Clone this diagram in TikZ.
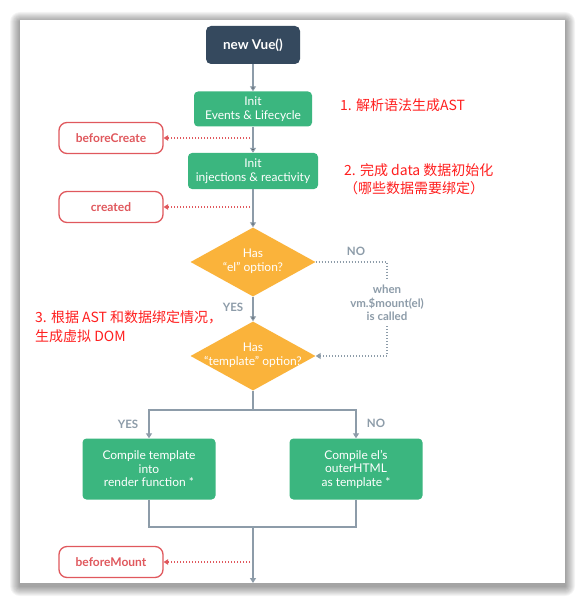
\documentclass[tikz,border=0pt]{standalone}
\usepackage{fontspec}
\setmainfont{Lato}
\newfontfamily\cjk{Noto Sans CJK SC}
\usetikzlibrary{shapes.geometric,arrows.meta}
\definecolor{vuenavy}{HTML}{35495E}
\definecolor{vuegreen}{HTML}{3BB67F}
\definecolor{vueyellow}{HTML}{FAB33B}
\definecolor{hookred}{HTML}{E0585D}
\definecolor{flowgray}{HTML}{8D9CA9}
\definecolor{notered}{HTML}{FF1F1F}
\newcommand{\dtext}[2]{\makebox[0pt]{\raisebox{4pt}{\begin{tabular}{@{}c@{}}#1\\#2\end{tabular}}}}
\tikzstyle{startbox}=[
	fill=vuenavy,
	rounded corners=5pt,
	text=white,
	font=\bfseries\fontsize{13.5}{15}\selectfont,
	minimum width=94pt,
	minimum height=38pt,
	inner sep=0pt
]
\tikzstyle{initbox}=[
	fill=vuegreen,
	rounded corners=4pt,
	text=white,
	font=\fontsize{12}{13.5}\selectfont,
	align=center,
	inner sep=0pt
]
\tikzstyle{hookbox}=[
	draw=hookred,
	line width=1.3pt,
	fill=white,
	rounded corners=8pt,
	text=hookred,
	font=\bfseries\fontsize{12}{14}\selectfont,
	minimum width=104pt,
	minimum height=31pt,
	inner sep=0pt
]
\tikzstyle{decision}=[
	diamond,
	fill=vueyellow,
	text=white,
	font=\fontsize{12}{14}\selectfont,
	minimum width=125pt,
	minimum height=69pt,
	inner sep=0pt
]
\tikzstyle{flowlabel}=[text=flowgray, font=\bfseries\fontsize{11.5}{13.5}\selectfont, align=center]
\tikzstyle{note}=[text=notered, font=\cjk\fontsize{14}{18.5}\selectfont, align=left, anchor=west, inner sep=0pt]
\tikzstyle{flow}=[draw=flowgray, line width=1.6pt]
\tikzstyle{flowarrow}=[flow, -{Triangle[width=6pt,length=5pt]}]
\tikzstyle{noflow}=[draw=flowgray, line width=1.3pt, dash pattern=on 1.4pt off 1.6pt]
\tikzstyle{noflowarrow}=[noflow, -{Triangle[width=6pt,length=5pt]}]
\tikzstyle{hookarrow}=[draw=hookred, line width=1.2pt, dash pattern=on 1.4pt off 1.6pt, -{Triangle[width=5.5pt,length=4.5pt]}]

\begin{document}
\begin{tikzpicture}[x=1pt,y=-1pt]
	\useasboundingbox (0,0) rectangle (583,604);
	
	\foreach \i in {1,...,10}
		\fill[black, opacity=0.045, rounded corners=\i pt] (20-\i,20-\i+2) rectangle (565+\i,583+\i+3);
	\fill[white] (20,20) rectangle (565,583);
	
	\node[startbox]	(vue)	at (253,45)	{new Vue()};
	\node[initbox, minimum width=118pt, minimum height=35pt]	(initev)	at (253,109)	{Init\\Events \& Lifecycle};
	\node[initbox, minimum width=130pt, minimum height=36pt]	(initinj)	at (253,171)	{Init\\injections \& reactivity};
	\node[decision]	(hasel)	at (253,262)	{\dtext{Has}{“el” option?}};
	\node[decision]	(hastpl)	at (253,356)	{\dtext{Has}{“template” option?}};
	\node[initbox, minimum width=133pt, minimum height=61pt]	(cmptpl)	at (149,469)	{Compile template\\into\\render function *};
	\node[initbox, minimum width=133pt, minimum height=61pt]	(cmpel)	at (356,469)	{Compile el’s\\outerHTML\\as template *};
	
	\node[hookbox]	(bc)	at (111,138)	{beforeCreate};
	\node[hookbox]	(cr)	at (111,207)	{created};
	\node[hookbox]	(bm)	at (111,562)	{beforeMount};
	
	\node[flowlabel]	(nolbl)	at (356,251)	{NO};
	\node[flowlabel]	(yeslbl)	at (233,307)	{YES};
	\node[flowlabel, inner sep=5pt]	(mount)	at (387,303)	{when\\vm.\$mount(el)\\is called};
	\node[flowlabel]	(yestpl)	at (128,424)	{YES};
	\node[flowlabel]	(notpl)	at (376,423)	{NO};
	
	\node[note]	(note1)	at (340,105)	{1. 解析语法生成AST};
	\node[note]	(note2)	at (344,179)	{2. 完成 data 数据初始化\\（哪些数据需要绑定）};
	\node[note]	(note3)	at (35,326.5)	{3. 根据 AST 和数据绑定情况，\\生成虚拟 DOM};
	
	\coordinate	(split)	at (253,410);
	\coordinate	(join)	at (253,527);
	\coordinate	(last)	at (253,583);
	
	\draw[hookarrow] (initev |- bc) -- (bc);
	\draw[hookarrow] (initinj |- cr) -- (cr);
	\draw[hookarrow] (join |- bm) -- (bm);
	
	\path[flowarrow]
		(vue) edge (initev)
		(initev) edge (initinj)
		(initinj) edge (hasel)
		(hasel) edge (hastpl);
	\draw[flow] (hastpl) -- (split);
	\draw[flowarrow] (split) -| (cmptpl);
	\draw[flowarrow] (split) -| (cmpel);
	\draw[flow] (cmptpl) |- (join);
	\draw[flow] (cmpel) |- (join);
	\draw[flowarrow] (join) -- (last);
	
	\draw[noflow] (hasel) -| (mount);
	\draw[noflowarrow] (mount) |- (hastpl);
	
\end{tikzpicture}
\end{document}
